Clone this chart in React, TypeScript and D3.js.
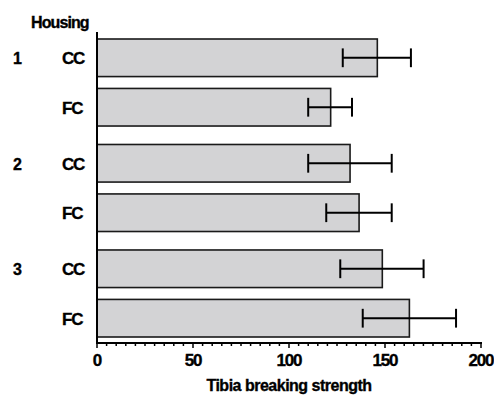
import React from "react";
import * as d3 from "d3";

const groups = ["1", "2", "3"];
const housing = ["CC", "FC"];
const means = [146, 121.7, 131.8, 136.5, 148.6, 162.7];
const errLow = [128, 110, 110, 119.4, 126.7, 138.4];
const errHigh = [163.5, 132.8, 153.5, 153.5, 170.1, 187];
const xTicks = [0, 50, 100, 150, 200];
const xLabel = "Tibia breaking strength";
const yTitle = "Housing";

const W = 494;
const H = 397;
const FONT = "'Liberation Sans', Arial, sans-serif";

export default function App() {
  const x = d3.scaleLinear().domain([0, 200]).range([97, 481]);
  const yGroup = d3.scaleBand<string>().domain(groups).range([39, 337]).paddingInner(0.175).paddingOuter(0);
  const yInner = d3.scaleBand<string>().domain(housing).range([0, yGroup.bandwidth()]).paddingInner(0.24).paddingOuter(0);
  const axisY = 343;
  const minor = d3.range(0, 201, 5);
  const heavy = { stroke: "#000", strokeWidth: 0.35 };

  const rows = groups.flatMap((g, gi) =>
    housing.map((h, hi) => {
      const i = gi * housing.length + hi;
      return { g, h, i, gi, hi, mean: means[i], lo: errLow[i], hi2: errHigh[i] };
    })
  );

  return (
    <svg width={W} height={H} style={{ position: "absolute", left: 0, top: 0 }} fontFamily={FONT}>
      <rect width={W} height={H} fill="#fff" />
      <text x={31} y={28} fontSize={16} fontWeight="bold" letterSpacing={-0.9} {...heavy}>{yTitle}</text>
      {rows.map((r) => {
        const y0 = (yGroup(r.g) as number) + (yInner(r.h) as number);
        const bh = yInner.bandwidth();
        const cy = y0 + bh / 2;
        const capH = bh / 2;
        return (
          <g key={r.i}>
            <rect x={x(0)} y={y0} width={x(r.mean) - x(0)} height={bh} fill="#d3d3d5" stroke="#1a1a1a" strokeWidth={1.6} />
            <line x1={x(r.lo)} x2={x(r.hi2)} y1={cy} y2={cy} stroke="#000" strokeWidth={2} />
            <line x1={x(r.lo)} x2={x(r.lo)} y1={cy - capH / 2} y2={cy + capH / 2} stroke="#000" strokeWidth={2} />
            <line x1={x(r.hi2)} x2={x(r.hi2)} y1={cy - capH / 2} y2={cy + capH / 2} stroke="#000" strokeWidth={2} />
            <text x={62} y={cy + 6.5} fontSize={17} fontWeight="bold" letterSpacing={-1.2} {...heavy}>{r.h}</text>
            {r.hi === 0 && (
              <text x={13} y={cy + 6.5} fontSize={16} fontWeight="bold" letterSpacing={-0.8} {...heavy}>{r.g}</text>
            )}
          </g>
        );
      })}
      <line x1={x(0)} x2={x(0)} y1={32} y2={axisY} stroke="#000" strokeWidth={2} />
      <line x1={x(0) - 1} x2={x(200) + 1} y1={axisY} y2={axisY} stroke="#000" strokeWidth={2} />
      {minor.map((v) => (
        <line key={v} x1={x(v)} x2={x(v)} y1={axisY} y2={axisY + (v % 50 === 0 ? 5 : 3)} stroke="#000" strokeWidth={1.5} />
      ))}
      {xTicks.map((v) => (
        <text key={v} x={x(v)} y={366} textAnchor="middle" fontSize={17} fontWeight="bold" letterSpacing={-1.2} {...heavy}>{v}</text>
      ))}
      <text x={(x(0) + x(200)) / 2} y={391} textAnchor="middle" fontSize={16} fontWeight="bold" letterSpacing={-0.5} {...heavy}>{xLabel}</text>
    </svg>
  );
}
